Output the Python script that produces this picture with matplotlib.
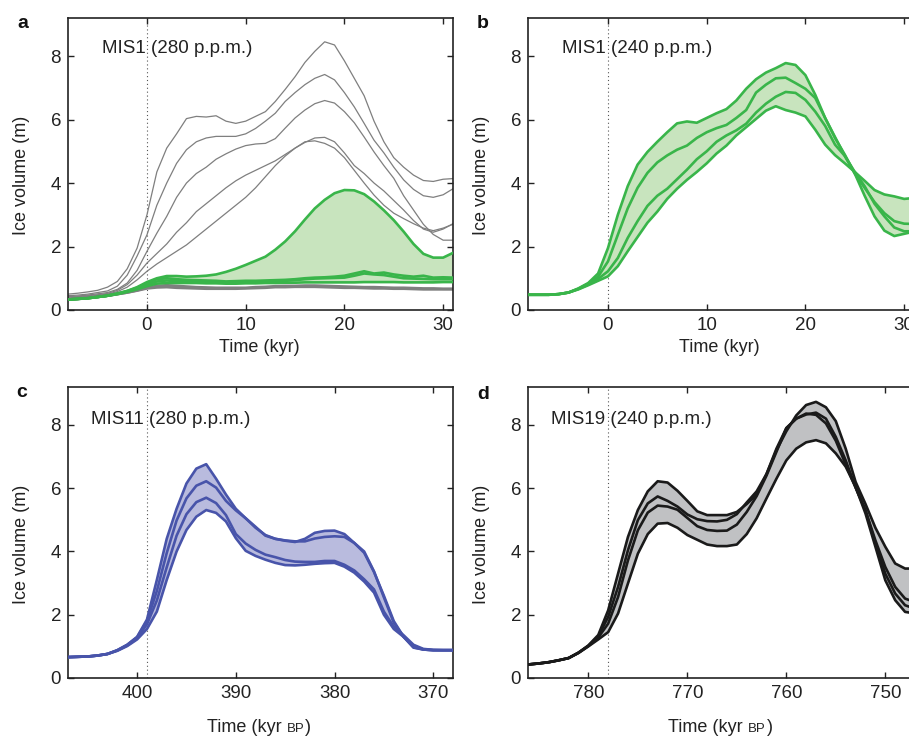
"""
Ice volume response for four interglacials (MIS1, MIS11, MIS19).

Usage:
    python plot.py

Output:
    out.png
"""
import numpy as np
import matplotlib
matplotlib.use("Agg")
import matplotlib.pyplot as plt

plt.rcParams["font.family"] = ["Liberation Sans", "DejaVu Sans"]

# Colours
GREEN = "#39b54a"
GREEN_FILL = "#c8e4be"
BLUE = "#4854aa"
BLUE_FILL = "#b9bbde"
BLACK = "#1a1a1a"
GREY_FILL = "#c0c1c3"
GREY_LINE = "#7f7f7f"

# ---- Panel a: MIS1 at 280 p.p.m. (time in kyr) ----
TIME_A = list(range(-8, 32))
GREY_A = [
    [0.50, 0.53, 0.57, 0.62, 0.72, 0.90, 1.30, 1.95, 3.00, 4.35, 5.10, 5.55, 6.03, 6.10,
     6.08, 6.12, 5.95, 5.88, 5.95, 6.10, 6.25, 6.57, 6.95, 7.35, 7.80, 8.15, 8.45, 8.35,
     7.85, 7.30, 6.75, 5.95, 5.30, 4.80, 4.50, 4.25, 4.08, 4.05, 4.12, 4.14],
    [0.45, 0.47, 0.50, 0.55, 0.60, 0.75, 1.10, 1.70, 2.37, 3.30, 4.00, 4.62, 5.05, 5.30,
     5.42, 5.47, 5.47, 5.47, 5.55, 5.72, 5.95, 6.20, 6.57, 6.85, 7.10, 7.30, 7.42, 7.25,
     6.85, 6.40, 5.88, 5.35, 4.95, 4.50, 4.10, 3.80, 3.60, 3.55, 3.63, 3.82],
    [0.42, 0.44, 0.47, 0.51, 0.55, 0.65, 0.85, 1.25, 1.85, 2.42, 2.95, 3.55, 4.00, 4.30,
     4.50, 4.75, 4.92, 5.07, 5.18, 5.23, 5.25, 5.40, 5.73, 6.05, 6.30, 6.50, 6.60, 6.52,
     6.25, 5.90, 5.45, 4.98, 4.55, 4.15, 3.60, 3.15, 2.70, 2.38, 2.20, 2.20],
    [0.40, 0.42, 0.45, 0.48, 0.52, 0.62, 0.80, 1.10, 1.48, 1.78, 2.08, 2.45, 2.75, 3.10,
     3.35, 3.60, 3.85, 4.07, 4.25, 4.40, 4.55, 4.70, 4.90, 5.10, 5.28, 5.42, 5.44, 5.30,
     4.95, 4.55, 4.30, 4.00, 3.75, 3.45, 3.15, 2.82, 2.55, 2.45, 2.55, 2.72],
    [0.38, 0.40, 0.43, 0.46, 0.50, 0.58, 0.72, 0.95, 1.22, 1.45, 1.65, 1.85, 2.05, 2.30,
     2.55, 2.80, 3.05, 3.30, 3.55, 3.85, 4.20, 4.55, 4.85, 5.10, 5.30, 5.33, 5.25, 5.10,
     4.80, 4.40, 4.00, 3.62, 3.30, 3.05, 2.88, 2.72, 2.58, 2.50, 2.58, 2.70],
]
GREY_A_LOW = [
    [0.33, 0.35, 0.38, 0.41, 0.45, 0.50, 0.55, 0.62, 0.70, 0.76, 0.78, 0.76, 0.74, 0.72,
     0.71, 0.70, 0.70, 0.70, 0.70, 0.72, 0.73, 0.75, 0.76, 0.76, 0.77, 0.77, 0.76, 0.75,
     0.74, 0.73, 0.72, 0.72, 0.71, 0.70, 0.70, 0.69, 0.68, 0.68, 0.67, 0.67],
    [0.33, 0.35, 0.38, 0.41, 0.45, 0.50, 0.55, 0.61, 0.68, 0.71, 0.72, 0.70, 0.69, 0.68,
     0.67, 0.67, 0.67, 0.67, 0.68, 0.69, 0.70, 0.72, 0.72, 0.73, 0.73, 0.73, 0.72, 0.71,
     0.70, 0.70, 0.69, 0.68, 0.68, 0.67, 0.67, 0.66, 0.65, 0.65, 0.65, 0.65],
]
GREEN_A = [
    [0.33, 0.35, 0.37, 0.41, 0.45, 0.52, 0.60, 0.72, 0.88, 1.00, 1.07, 1.07, 1.05, 1.06,
     1.08, 1.12, 1.20, 1.30, 1.42, 1.55, 1.68, 1.90, 2.16, 2.48, 2.85, 3.20, 3.47, 3.68,
     3.78, 3.77, 3.65, 3.42, 3.14, 2.83, 2.47, 2.08, 1.77, 1.65, 1.65, 1.80],
    [0.33, 0.35, 0.37, 0.41, 0.45, 0.52, 0.60, 0.70, 0.85, 0.97, 1.00, 0.97, 0.95, 0.94,
     0.93, 0.92, 0.90, 0.91, 0.92, 0.92, 0.93, 0.94, 0.95, 0.97, 1.00, 1.02, 1.03, 1.05,
     1.08, 1.15, 1.22, 1.15, 1.18, 1.12, 1.08, 1.05, 1.08, 1.02, 1.03, 1.02],
    [0.33, 0.35, 0.37, 0.41, 0.45, 0.51, 0.58, 0.68, 0.80, 0.90, 0.93, 0.91, 0.90, 0.89,
     0.88, 0.88, 0.87, 0.87, 0.88, 0.89, 0.90, 0.91, 0.92, 0.94, 0.97, 0.99, 1.00, 1.01,
     1.02, 1.08, 1.15, 1.12, 1.10, 1.05, 1.00, 0.99, 0.98, 0.97, 0.97, 0.97],
    [0.33, 0.35, 0.37, 0.41, 0.45, 0.50, 0.57, 0.65, 0.75, 0.83, 0.85, 0.85, 0.85, 0.85,
     0.84, 0.84, 0.83, 0.83, 0.84, 0.84, 0.85, 0.85, 0.86, 0.86, 0.87, 0.87, 0.87, 0.87,
     0.87, 0.87, 0.88, 0.88, 0.88, 0.88, 0.87, 0.87, 0.87, 0.87, 0.88, 0.88],
]

# ---- Panel b: MIS1 at 240 p.p.m. (time in kyr) ----
TIME_B = list(range(-8, 32))
GREEN_B = [
    [0.48, 0.48, 0.48, 0.50, 0.55, 0.68, 0.85, 1.15, 1.95, 3.00, 3.90, 4.58, 4.98, 5.30,
     5.60, 5.88, 5.94, 5.90, 6.05, 6.20, 6.33, 6.60, 6.97, 7.27, 7.48, 7.62, 7.78, 7.72,
     7.40, 6.78, 6.05, 5.42, 4.89, 4.30, 3.60, 2.95, 2.50, 2.33, 2.40, 2.47],
    [0.48, 0.48, 0.48, 0.50, 0.55, 0.67, 0.83, 1.05, 1.53, 2.37, 3.20, 3.85, 4.32, 4.65,
     4.87, 5.05, 5.18, 5.42, 5.60, 5.73, 5.83, 6.05, 6.30, 6.85, 7.10, 7.30, 7.32, 7.15,
     6.97, 6.68, 6.05, 5.45, 4.85, 4.30, 3.85, 3.40, 3.05, 2.80, 2.72, 2.71],
    [0.48, 0.48, 0.48, 0.50, 0.55, 0.66, 0.80, 0.98, 1.22, 1.64, 2.27, 2.80, 3.28, 3.60,
     3.82, 4.12, 4.42, 4.75, 5.00, 5.30, 5.50, 5.66, 5.87, 6.22, 6.50, 6.72, 6.87, 6.84,
     6.62, 6.25, 5.80, 5.21, 4.85, 4.35, 3.90, 3.35, 2.95, 2.60, 2.48, 2.48],
    [0.48, 0.48, 0.48, 0.50, 0.55, 0.65, 0.78, 0.92, 1.06, 1.38, 1.85, 2.30, 2.75, 3.10,
     3.50, 3.82, 4.10, 4.35, 4.62, 4.93, 5.18, 5.50, 5.76, 6.02, 6.28, 6.42, 6.30, 6.22,
     6.10, 5.68, 5.21, 4.88, 4.62, 4.35, 4.07, 3.78, 3.64, 3.58, 3.50, 3.53],
]

# ---- Panel c: MIS11 at 280 p.p.m. (kyr BP) ----
TIME_C = list(range(407, 367, -1))
BLUE_C = [
    [0.66, 0.67, 0.68, 0.71, 0.76, 0.88, 1.05, 1.30, 1.85, 3.10, 4.40, 5.35, 6.15, 6.62,
     6.76, 6.30, 5.80, 5.35, 5.05, 4.75, 4.52, 4.40, 4.34, 4.30, 4.40, 4.59, 4.65, 4.66,
     4.55, 4.27, 3.96, 3.35, 2.60, 1.80, 1.30, 0.96, 0.90, 0.88, 0.88, 0.88],
    [0.66, 0.67, 0.68, 0.71, 0.76, 0.88, 1.05, 1.29, 1.80, 2.75, 3.95, 4.98, 5.68, 6.08,
     6.22, 6.02, 5.60, 5.30, 5.05, 4.78, 4.50, 4.40, 4.35, 4.32, 4.32, 4.41, 4.46, 4.48,
     4.46, 4.27, 4.00, 3.37, 2.55, 1.75, 1.30, 0.97, 0.90, 0.88, 0.88, 0.88],
    [0.66, 0.67, 0.68, 0.71, 0.76, 0.87, 1.03, 1.26, 1.70, 2.45, 3.50, 4.50, 5.18, 5.56,
     5.70, 5.53, 5.15, 4.55, 4.25, 4.05, 3.90, 3.82, 3.73, 3.68, 3.67, 3.67, 3.70, 3.70,
     3.58, 3.40, 3.12, 2.80, 2.10, 1.62, 1.35, 1.05, 0.92, 0.89, 0.88, 0.88],
    [0.66, 0.67, 0.68, 0.71, 0.76, 0.86, 1.01, 1.22, 1.55, 2.10, 3.10, 4.00, 4.68, 5.10,
     5.31, 5.22, 4.95, 4.42, 4.02, 3.86, 3.74, 3.64, 3.57, 3.56, 3.58, 3.61, 3.63, 3.64,
     3.52, 3.33, 3.05, 2.70, 2.00, 1.55, 1.30, 1.02, 0.90, 0.88, 0.88, 0.88],
]

# ---- Panel d: MIS19 at 240 p.p.m. (kyr BP) ----
TIME_D = list(range(786, 746, -1))
BLACK_D = [
    [0.43, 0.46, 0.50, 0.56, 0.63, 0.80, 1.03, 1.36, 2.14, 3.30, 4.46, 5.31, 5.90, 6.22,
     6.18, 5.92, 5.60, 5.27, 5.15, 5.15, 5.15, 5.25, 5.50, 5.80, 6.45, 7.20, 7.80, 8.30,
     8.63, 8.73, 8.56, 8.12, 7.25, 6.20, 5.50, 4.75, 4.15, 3.62, 3.46, 3.46],
    [0.43, 0.46, 0.50, 0.56, 0.63, 0.80, 1.02, 1.32, 1.93, 2.88, 4.04, 4.99, 5.52, 5.74,
     5.60, 5.42, 5.17, 5.02, 4.96, 4.95, 5.00, 5.18, 5.55, 5.90, 6.45, 7.25, 7.90, 8.20,
     8.33, 8.39, 8.20, 7.62, 6.88, 6.03, 5.30, 4.35, 3.51, 2.88, 2.51, 2.40],
    [0.43, 0.46, 0.50, 0.56, 0.63, 0.80, 1.01, 1.28, 1.72, 2.56, 3.72, 4.67, 5.23, 5.45,
     5.42, 5.32, 5.06, 4.80, 4.68, 4.65, 4.66, 4.85, 5.25, 5.75, 6.40, 7.15, 7.90, 8.20,
     8.36, 8.32, 8.05, 7.50, 6.75, 6.02, 5.30, 4.25, 3.30, 2.67, 2.30, 2.19],
    [0.43, 0.46, 0.50, 0.56, 0.63, 0.79, 1.00, 1.22, 1.45, 2.04, 2.99, 3.93, 4.55, 4.88,
     4.90, 4.75, 4.52, 4.37, 4.22, 4.17, 4.17, 4.22, 4.55, 5.05, 5.68, 6.30, 6.88, 7.25,
     7.45, 7.52, 7.42, 7.10, 6.68, 6.04, 5.20, 4.15, 3.09, 2.46, 2.09, 2.04],
]

# Axes frames in figure pixels: left, bottom, width, height (909 x 736 canvas)
W, H = 909, 736
FRAMES = {
    "a": (68, 310, 385, 292),
    "b": (528, 310, 386, 292),
    "c": (68, 678, 385, 291),
    "d": (528, 678, 386, 291),
}


def make_axes(fig, key, right_ticks=True):
    left, bottom, width, height = FRAMES[key]
    ax = fig.add_axes([left / W, 1 - bottom / H, width / W, height / H])
    ax.set_ylim(0, 9.2)
    ax.set_yticks([0, 2, 4, 6, 8])
    ax.tick_params(direction="in", length=4, width=1, top=True, right=right_ticks,
                   labelsize=13.5, pad=5, colors="#222222")
    for spine in ax.spines.values():
        spine.set_linewidth(1.2)
        spine.set_color("#222222")
    ax.set_ylabel("Ice volume (m)", fontsize=13, color="#222222", va="center")
    ax.yaxis.set_label_coords(-0.12, 0.46)
    return ax


def draw_band(ax, x, curves, line_color, fill_color):
    data = np.array(curves)
    ax.fill_between(x, data.min(axis=0), data.max(axis=0), color=fill_color, lw=0, zorder=2)
    for y in curves:
        ax.plot(x, y, color=line_color, lw=1.9, zorder=3)


def label_bp(fig, ax, x0, y0):
    """Write 'Time (kyr BP)' with BP in small capitals."""
    renderer = fig.canvas.get_renderer()
    kw = dict(transform=ax.transAxes, va="baseline", ha="left", color="#222222",
              clip_on=False)
    t1 = ax.text(x0, y0, "Time (kyr", fontsize=13, **kw)
    inv = ax.transAxes.inverted()
    x1 = inv.transform((t1.get_window_extent(renderer).x1 + 5, 0))[0]
    t2 = ax.text(x1, y0, "BP", fontsize=9.5, **kw)
    x2 = inv.transform((t2.get_window_extent(renderer).x1 + 1, 0))[0]
    ax.text(x2, y0, ")", fontsize=13, **kw)


def main():
    fig = plt.figure(figsize=(W / 100, H / 100), dpi=100)

    # a
    ax = make_axes(fig, "a")
    for y in GREY_A:
        ax.plot(TIME_A, y, color=GREY_LINE, lw=0.9, zorder=1)
    for y in GREY_A_LOW:
        ax.plot(TIME_A, y, color=GREY_LINE, lw=1.9, zorder=1)
    draw_band(ax, TIME_A, GREEN_A, GREEN, GREEN_FILL)
    ax.set_xlim(-8, 31)
    ax.set_xticks([0, 10, 20, 30])
    ax.axvline(0, color="#555555", lw=0.8, ls=(0, (1, 2.5)), zorder=0)
    ax.text(0.089, 0.88, "MIS1 (280 p.p.m.)", transform=ax.transAxes, fontsize=13.5,
            va="baseline", color="#222222")
    ax.set_xlabel("Time (kyr)", fontsize=13, color="#222222", va="baseline")
    ax.xaxis.set_label_coords(0.496, -0.143)

    # b (frame runs past the right edge of the canvas)
    ax = make_axes(fig, "b", right_ticks=False)
    draw_band(ax, TIME_B, GREEN_B, GREEN, GREEN_FILL)
    ax.set_xlim(-8.1, 31)
    ax.set_xticks([0, 10, 20, 30])
    ax.axvline(0, color="#555555", lw=0.8, ls=(0, (1, 2.5)), zorder=0)
    ax.text(0.089, 0.88, "MIS1 (240 p.p.m.)", transform=ax.transAxes, fontsize=13.5,
            va="baseline", color="#222222")
    ax.set_xlabel("Time (kyr)", fontsize=13, color="#222222", va="baseline")
    ax.xaxis.set_label_coords(0.495, -0.143)

    # c
    ax = make_axes(fig, "c")
    draw_band(ax, TIME_C, BLUE_C, BLUE, BLUE_FILL)
    ax.set_xlim(407, 368)
    ax.set_xticks([400, 390, 380, 370])
    ax.axvline(399, color="#555555", lw=0.8, ls=(0, (1, 2.5)), zorder=0)
    ax.text(0.06, 0.874, "MIS11 (280 p.p.m.)", transform=ax.transAxes, fontsize=13.5,
            va="baseline", color="#222222")
    label_bp(fig, ax, 0.361, -0.1845)

    # d
    ax = make_axes(fig, "d", right_ticks=False)
    draw_band(ax, TIME_D, BLACK_D, BLACK, GREY_FILL)
    ax.set_xlim(786.1, 747.1)
    ax.set_xticks([780, 770, 760, 750])
    ax.axvline(778, color="#555555", lw=0.8, ls=(0, (1, 2.5)), zorder=0)
    ax.text(0.059, 0.874, "MIS19 (240 p.p.m.)", transform=ax.transAxes, fontsize=13.5,
            va="baseline", color="#222222")
    label_bp(fig, ax, 0.363, -0.1845)

    # panel letters
    for letter, (px, py) in {"a": (17, 28), "b": (477, 28), "c": (16, 397), "d": (477, 399)}.items():
        fig.text(px / W, 1 - py / H, letter, fontsize=14, fontweight="bold",
                 va="baseline", ha="left", color="#111111")

    fig.savefig("out.png", dpi=100)
    plt.close(fig)


if __name__ == "__main__":
    main()
